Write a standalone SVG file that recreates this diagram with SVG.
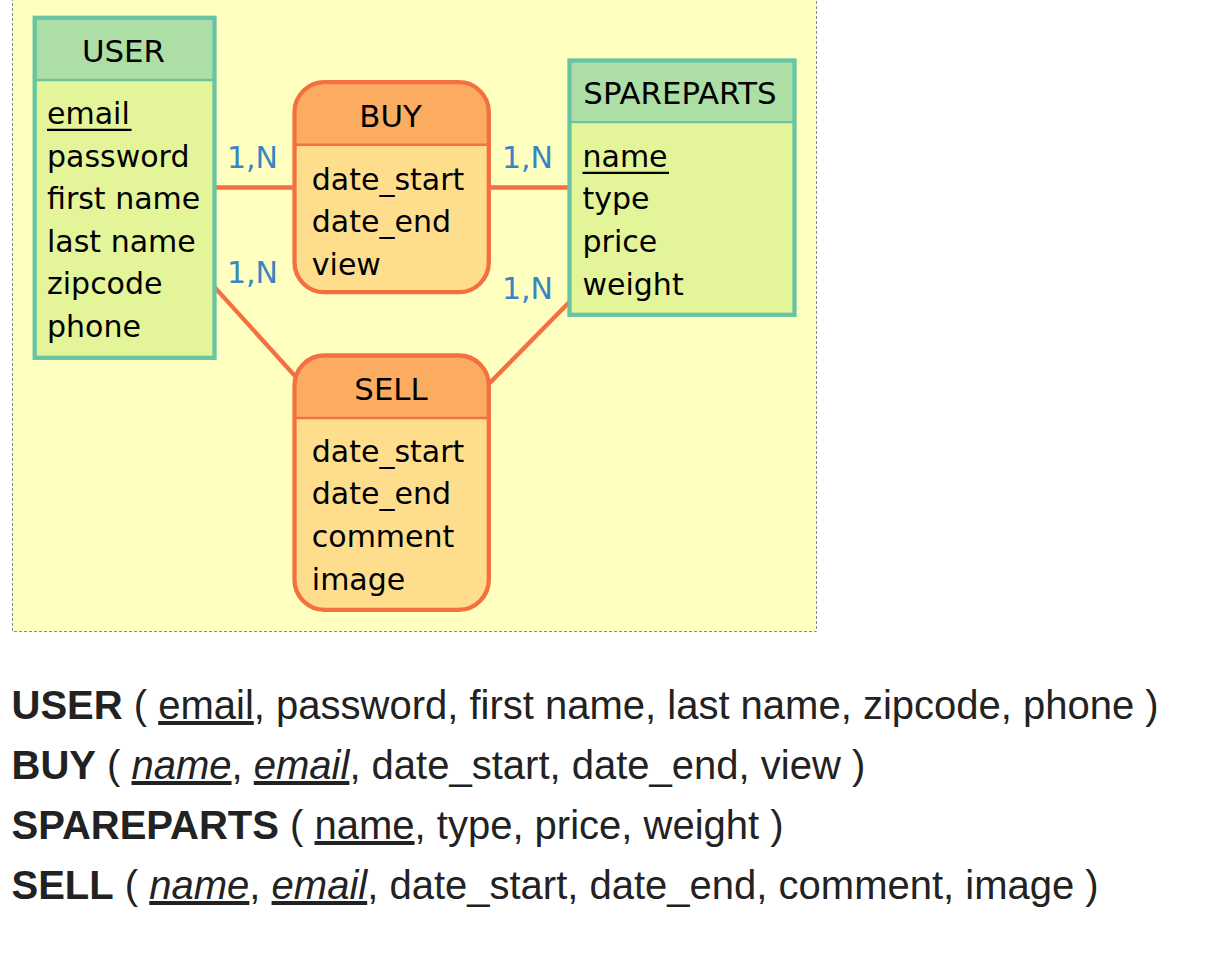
<svg xmlns="http://www.w3.org/2000/svg" width="1220" height="956" viewBox="0 0 1220 956">
<style>
.bg{fill:#ffffff}
.panel{fill:#ffffc0;stroke:#8a8a8a;stroke-width:1;stroke-dasharray:3 2}
.ebody{fill:#e4f498}
.ehead{fill:#addea5}
.eborder{fill:none;stroke:#68c4a3;stroke-width:4.3}
.esep{stroke:#68c4a3;stroke-width:2.3}
.rbody{fill:#fede8c}
.rhead{fill:#fcac60}
.rborder{fill:none;stroke:#f47042;stroke-width:4.3}
.rsep{stroke:#f47042;stroke-width:2.5}
.conn{stroke:#f47042;stroke-width:4.3;fill:none}
.t{font-family:"DejaVu Sans",Verdana,sans-serif;font-size:30px;fill:#000}
.title{text-anchor:middle;font-size:30.8px}
.ul{stroke:#000;stroke-width:2.3}
.card{font-family:"DejaVu Sans",Verdana,sans-serif;font-size:30px;fill:#3985c4}
.schema{font-family:"Liberation Sans",Arial,sans-serif;font-size:40px;fill:#222}
.b{font-weight:bold}
.u{text-decoration:underline}
.i{font-style:italic}
</style>
<rect class="bg" x="0" y="0" width="1220" height="956"/>
<rect id="panel" class="panel" x="12.5" y="-5" width="804" height="636.5"/>

<g id="connectors">
<line id="user-buy" class="conn" x1="124.6" y1="187.5" x2="391.6" y2="187.5"/>
<line id="buy-spareparts" class="conn" x1="391.6" y1="187.5" x2="682" y2="187.5"/>
<line id="user-sell" class="conn" x1="124.6" y1="187.8" x2="391.6" y2="482.6"/>
<line id="spareparts-sell" class="conn" x1="682" y1="187.6" x2="391.6" y2="482.6"/>
</g>

<g id="node-user">
<rect class="ebody" x="34.7" y="17.8" width="179.8" height="340"/>
<rect class="ehead" x="34.7" y="17.8" width="179.8" height="62.2"/>
<line class="esep" x1="34.7" y1="80" x2="214.5" y2="80"/>
<rect class="eborder" x="34.7" y="17.8" width="179.8" height="340"/>
<text class="t title" x="123.5" y="62">USER</text>
<text class="t" x="47" y="124">email</text>
<line class="ul" x1="47" y1="129.8" x2="131.5" y2="129.8"/>
<text class="t" x="47" y="166.6">password</text>
<text class="t" x="47" y="209.2">first name</text>
<text class="t" x="47" y="251.8">last name</text>
<text class="t" x="47" y="294.4">zipcode</text>
<text class="t" x="47" y="337">phone</text>
</g>

<g id="node-spareparts">
<rect class="ebody" x="569.5" y="60.5" width="225" height="254.3"/>
<rect class="ehead" x="569.5" y="60.5" width="225" height="61.7"/>
<line class="esep" x1="569.5" y1="122.2" x2="794.5" y2="122.2"/>
<rect class="eborder" x="569.5" y="60.5" width="225" height="254.3"/>
<text class="t title" x="680" y="104">SPAREPARTS</text>
<text class="t" x="582.5" y="166.7">name</text>
<line class="ul" x1="582.5" y1="172.8" x2="669" y2="172.8"/>
<text class="t" x="582.5" y="209.3">type</text>
<text class="t" x="582.5" y="251.9">price</text>
<text class="t" x="582.5" y="294.5">weight</text>
</g>

<g id="node-buy">
<rect class="rbody" x="294.5" y="82.2" width="194.3" height="210" rx="30" ry="30"/>
<path class="rhead" d="M294.5,144.7 V112.2 A30,30 0 0 1 324.5,82.2 H458.8 A30,30 0 0 1 488.8,112.2 V144.7 Z"/>
<line class="rsep" x1="294.5" y1="144.7" x2="488.8" y2="144.7"/>
<rect class="rborder" x="294.5" y="82.2" width="194.3" height="210" rx="30" ry="30"/>
<text class="t title" x="390.5" y="127">BUY</text>
<text class="t" x="311.8" y="189.6">date_start</text>
<text class="t" x="311.8" y="232.2">date_end</text>
<text class="t" x="311.8" y="274.8">view</text>
</g>

<g id="node-sell">
<rect class="rbody" x="294.5" y="355.5" width="194.3" height="254.3" rx="30" ry="30"/>
<path class="rhead" d="M294.5,418 V385.5 A30,30 0 0 1 324.5,355.5 H458.8 A30,30 0 0 1 488.8,385.5 V418 Z"/>
<line class="rsep" x1="294.5" y1="418" x2="488.8" y2="418"/>
<rect class="rborder" x="294.5" y="355.5" width="194.3" height="254.3" rx="30" ry="30"/>
<text class="t title" x="391" y="400">SELL</text>
<text class="t" x="311.8" y="461.8">date_start</text>
<text class="t" x="311.8" y="504.4">date_end</text>
<text class="t" x="311.8" y="547">comment</text>
<text class="t" x="311.8" y="589.6">image</text>
</g>

<g id="cardinalities">
<text class="card" x="227" y="168.3">1,N</text>
<text class="card" x="227" y="283.3">1,N</text>
<text class="card" x="502" y="167.7">1,N</text>
<text class="card" x="502" y="299.3">1,N</text>
</g>

<g id="schema">
<text class="schema" x="11.5" y="719"><tspan class="b">USER</tspan> ( <tspan class="u">email</tspan>, password, first name, last name, zipcode, phone )</text>
<text class="schema" x="11.5" y="779"><tspan class="b">BUY</tspan> ( <tspan class="u i">name</tspan>, <tspan class="u i">email</tspan>, date_start, date_end, view )</text>
<text class="schema" x="11.5" y="839"><tspan class="b">SPAREPARTS</tspan> ( <tspan class="u">name</tspan>, type, price, weight )</text>
<text class="schema" x="11.5" y="899"><tspan class="b">SELL</tspan> ( <tspan class="u i">name</tspan>, <tspan class="u i">email</tspan>, date_start, date_end, comment, image )</text>
</g>
</svg>
